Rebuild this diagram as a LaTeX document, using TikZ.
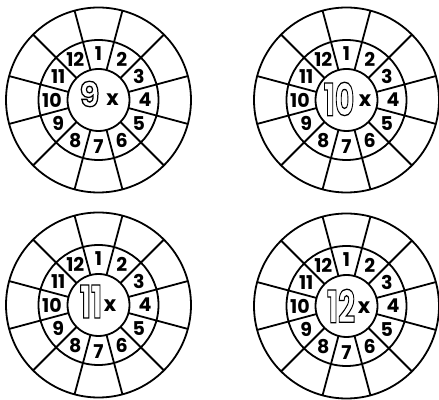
\documentclass[tikz,border=0pt]{standalone}
\usepackage{fontspec}
\setmainfont{Poppins}
\usetikzlibrary{calc}
\newcommand\hollow[1]{\special{pdf:literal direct 1 Tr 1.3 w}#1\special{pdf:literal direct 0 Tr 1 w}}
\newcommand\sx{1}
\tikzset{
  ring/.style={draw,circle,line width=1.8pt,inner sep=0pt,outer sep=0pt},
  spoke/.style={line width=1.8pt},
  num/.style={inner sep=0pt,font=\fontsize{19}{19}\selectfont\bfseries},
  big/.style={inner sep=0pt,font=\fontsize{45}{45}\selectfont\bfseries\renewcommand\sx{0.66}},
  bignine/.style={inner sep=0pt,font=\fontsize{34}{34}\selectfont\bfseries\renewcommand\sx{0.95}},
  times/.style={inner sep=0pt,font=\fontsize{21}{21}\selectfont\bfseries}
}
\newcommand\wheel[9]{%
  \coordinate (#1c) at (#2,#3);
  \node[ring,minimum size=185] (#1o) at (#1c) {};
  \node[ring,minimum size=120] (#1m) at (#1c) {};
  \node[ring,minimum size=62] (#1i) at (#1c) {};
  \foreach \a in {15,45,...,345}{\draw[spoke] (#1i.\a) -- (#1o.\a);}
  \foreach \n in {1,...,12}{\node[num] (#1n\n) at ($(#1c)+({90-30*(\n-1)}:46.5)$) {\n};}
  \node[#9] (#1b) at ($(#1c)+(#5,#6)$) {\scalebox{\sx}[1]{\hollow{#4}}};
  \node[times] (#1x) at ($(#1c)+(#7,#8)$) {x};
}
\begin{document}
\begin{tikzpicture}[x=1pt,y=1pt]
\useasboundingbox (0,0) rectangle (439,399);
\fill[white] (0,0) rectangle (439,399);
\wheel{a}{98.5}{299}{9}{-9}{6}{14}{0}{bignine}
\wheel{b}{346.5}{299}{10}{-7.5}{1}{18.5}{-1}{big}
\wheel{c}{98.5}{94}{11}{-7.5}{3.5}{11.5}{-1}{big}
\wheel{d}{346.5}{93}{12}{-5.5}{0}{17.5}{-1.5}{big}
\end{tikzpicture}
\end{document}
